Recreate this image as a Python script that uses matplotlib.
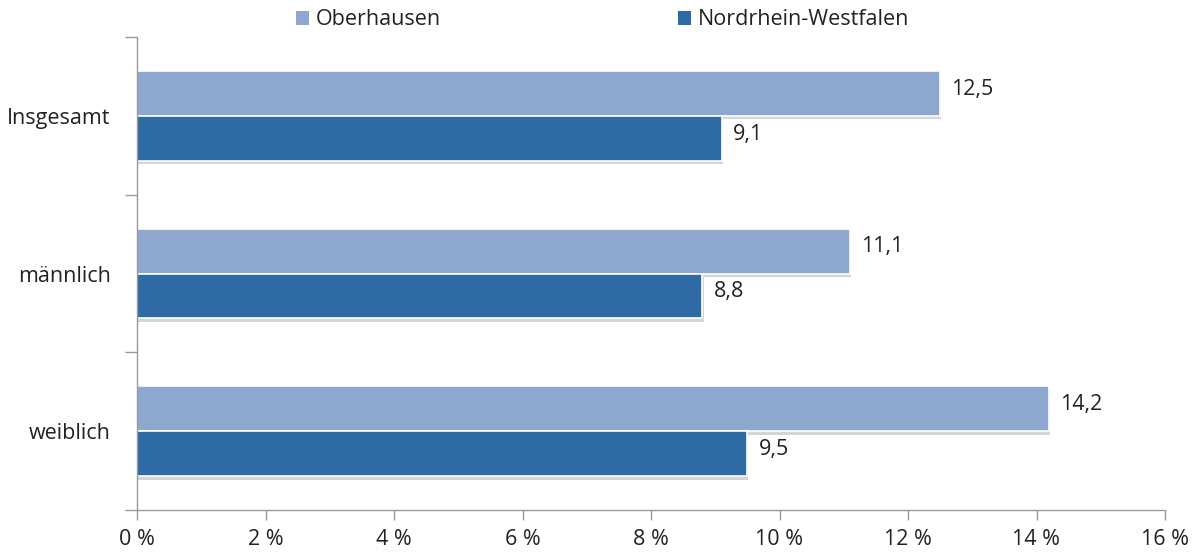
import matplotlib
matplotlib.use("Agg")
import matplotlib.pyplot as plt
import matplotlib.patheffects as pe
import numpy as np

categories = ["Insgesamt", "männlich", "weiblich"]
oberhausen = [12.5, 11.1, 14.2]
nrw = [9.1, 8.8, 9.5]
series_names = ["Oberhausen", "Nordrhein-Westfalen"]
xticks = [0, 2, 4, 6, 8, 10, 12, 14, 16]

plt.rcParams['font.family'] = ['Open Sans', 'DejaVu Sans']
FS = 15.5

fig = plt.figure(figsize=(11.98, 5.53), dpi=100)
ax = fig.add_axes([137/1198, 1-510/553, (1165-137)/1198, (510-37)/553])

c1 = "#8EA7CF"
c2 = "#2E6BA5"
h = 0.285
y = np.arange(len(categories))
shadow = [pe.SimplePatchShadow(offset=(0.8, -2.5), shadow_rgbFace="#888888", alpha=0.35), pe.Normal()]
b1 = ax.barh(y - h/2, oberhausen, height=h, color=c1, edgecolor="white", linewidth=1.2,
             label=series_names[0], path_effects=shadow)
b2 = ax.barh(y + h/2, nrw, height=h, color=c2, edgecolor="white", linewidth=1.2,
             label=series_names[1], path_effects=shadow)

for bars, vals in ((b1, oberhausen), (b2, nrw)):
    for rect, v in zip(bars, vals):
        ax.annotate(f"{v:.1f}".replace(".", ","), (v, rect.get_y() + rect.get_height()/2),
                    xytext=(8, 3), textcoords="offset points", va="center", ha="left",
                    fontsize=FS, color="#222222")

ax.set_xlim(0, 16)
ax.set_ylim(len(categories) - 0.5, -0.5)
ax.set_xticks(xticks)
ax.set_xticklabels([f"{t} %" for t in xticks], fontsize=FS, color="#222222")
ax.set_yticks(y)
ax.set_yticklabels(categories, fontsize=FS, color="#222222")
ax.tick_params(axis="y", length=0, pad=19)
ax.set_yticks(np.arange(-0.5, len(categories), 1.0), minor=True)
ax.tick_params(axis="y", which="minor", length=9, color="#999999", width=1)
ax.tick_params(axis="x", length=7, color="#999999", width=1, pad=7)
for s in ("top", "right"):
    ax.spines[s].set_visible(False)
for s in ("left", "bottom"):
    ax.spines[s].set_color("#999999")
    ax.spines[s].set_linewidth(1)

leg = fig.legend(handles=[b1, b2], labels=series_names, loc="center", bbox_to_anchor=(0.503, 0.964),
                 ncol=2, frameon=False, fontsize=FS, handlelength=0.6, handleheight=0.6,
                 handletextpad=0.33, columnspacing=11.0)
for t in leg.get_texts():
    t.set_color("#222222")
for hdl in leg.legend_handles:
    hdl.set_path_effects([])
    hdl.set_edgecolor("none")

fig.savefig("out.png", dpi=100)
